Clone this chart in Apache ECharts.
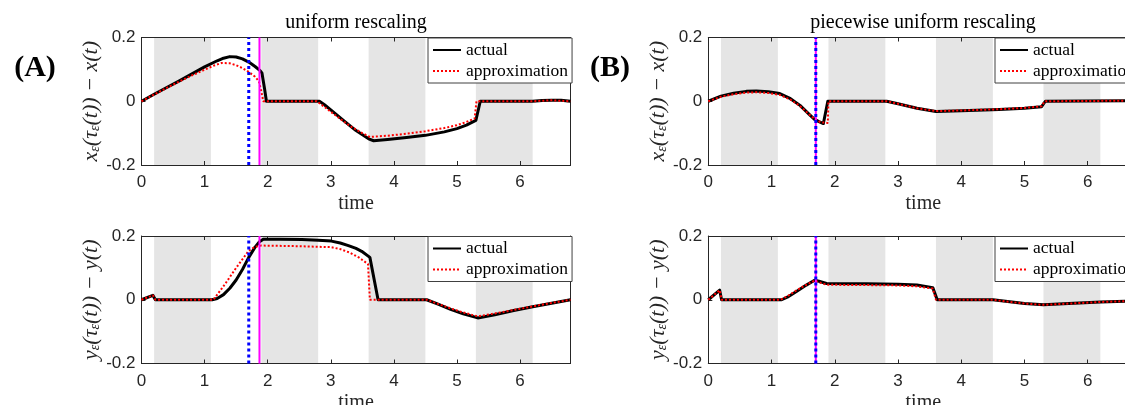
<!DOCTYPE html>
<html>
<head>
<meta charset="utf-8">
<script src="https://cdn.jsdelivr.net/npm/echarts@6/dist/echarts.min.js"></script>
<style>
html, body { margin: 0; padding: 0; background: #fff; }
#chart { width: 1125px; height: 405px; }
</style>
</head>
<body>
<div id="chart"></div>
<script>
// shaded intervals (time)
var bands = [[0.2, 1.1], [1.9, 2.8], [3.6, 4.5], [5.3, 6.2]];
var xTicks = [0, 1, 2, 3, 4, 5, 6];
var yTicks = [-0.2, 0, 0.2];

// (A) uniform rescaling, x error
var axActual = [[0,0],[0.2,0.022],[0.4,0.043],[0.6,0.064],[0.8,0.086],[1.0,0.108],[1.2,0.127],[1.3,0.135],[1.4,0.14],[1.5,0.139],[1.6,0.133],[1.7,0.123],[1.8,0.109],[1.88,0.096],[1.91,0.088],[1.95,0.04],[1.98,0],[2.82,0],[2.9,-0.011],[3.0,-0.027],[3.2,-0.06],[3.4,-0.092],[3.6,-0.118],[3.68,-0.124],[3.9,-0.12],[4.2,-0.114],[4.5,-0.107],[4.8,-0.096],[5.0,-0.086],[5.15,-0.075],[5.3,-0.06],[5.37,0],[6.2,0],[6.35,0.002],[6.5,0.003],[6.65,0.003],[6.8,0]];
var axApprox = [[0,0],[0.2,0.021],[0.4,0.042],[0.6,0.062],[0.8,0.081],[1.0,0.099],[1.15,0.112],[1.27,0.12],[1.4,0.119],[1.5,0.113],[1.6,0.104],[1.7,0.092],[1.8,0.077],[1.86,0.063],[1.9,0.03],[1.93,0],[2.78,0],[2.9,-0.018],[3.1,-0.048],[3.3,-0.077],[3.5,-0.1],[3.62,-0.112],[3.9,-0.108],[4.2,-0.102],[4.5,-0.094],[4.8,-0.084],[5.0,-0.075],[5.15,-0.065],[5.28,-0.054],[5.31,0],[6.2,0],[6.5,0.003],[6.8,0]];
// (A) uniform rescaling, y error
var ayActual = [[0,0],[0.18,0.014],[0.22,0],[1.12,0],[1.2,0.004],[1.3,0.016],[1.4,0.036],[1.5,0.062],[1.6,0.095],[1.7,0.133],[1.8,0.165],[1.87,0.182],[1.93,0.19],[2.2,0.19],[2.54,0.189],[2.8,0.187],[3.01,0.184],[3.15,0.178],[3.28,0.17],[3.4,0.161],[3.49,0.152],[3.62,0.133],[3.75,0],[4.52,0],[4.7,-0.014],[4.9,-0.03],[5.1,-0.044],[5.33,-0.057],[5.6,-0.047],[5.9,-0.034],[6.2,-0.022],[6.5,-0.011],[6.8,0]];
var ayApprox = [[0,0],[0.18,0.014],[0.22,0],[1.14,0],[1.32,0.048],[1.5,0.1],[1.7,0.154],[1.8,0.166],[1.9,0.17],[2.5,0.168],[3.0,0.165],[3.15,0.159],[3.3,0.148],[3.45,0.132],[3.59,0.112],[3.62,0],[4.52,0],[4.7,-0.013],[4.9,-0.027],[5.1,-0.04],[5.33,-0.052],[5.6,-0.043],[5.9,-0.032],[6.2,-0.021],[6.5,-0.01],[6.8,0]];

// (B) piecewise uniform rescaling, x error
var bxActual = [[0,0],[0.2,0.016],[0.4,0.025],[0.6,0.031],[0.76,0.032],[0.95,0.03],[1.13,0.024],[1.3,0.008],[1.45,-0.013],[1.6,-0.042],[1.68,-0.057],[1.75,-0.064],[1.82,-0.07],[1.89,0],[2.82,0],[3.0,-0.008],[3.3,-0.022],[3.6,-0.032],[4.0,-0.03],[4.6,-0.026],[5.0,-0.022],[5.27,-0.017],[5.33,0],[6.8,0.002]];
var bxApprox = [[0,0],[0.2,0.014],[0.4,0.022],[0.6,0.027],[0.76,0.028],[0.95,0.026],[1.13,0.02],[1.3,0.005],[1.45,-0.015],[1.6,-0.042],[1.7,-0.058],[1.78,-0.066],[1.89,-0.068],[1.9,0],[2.82,0],[3.0,-0.008],[3.3,-0.022],[3.6,-0.031],[4.0,-0.029],[4.6,-0.025],[5.0,-0.021],[5.27,-0.016],[5.32,0],[6.8,0.002]];
// (B) piecewise uniform rescaling, y error
var byActual = [[0,0],[0.18,0.03],[0.21,0],[1.16,0],[1.25,0.008],[1.4,0.027],[1.55,0.046],[1.68,0.061],[1.75,0.058],[1.87,0.051],[2.5,0.05],[3.0,0.049],[3.3,0.046],[3.55,0.038],[3.62,0],[4.5,0],[4.7,-0.005],[5.0,-0.012],[5.3,-0.016],[5.7,-0.012],[6.2,-0.007],[6.8,-0.003]];
var byApprox = [[0,0],[0.18,0.03],[0.21,0],[1.14,0],[1.25,0.011],[1.4,0.03],[1.55,0.047],[1.68,0.06],[1.75,0.055],[1.87,0.047],[2.5,0.046],[3.0,0.045],[3.3,0.042],[3.55,0.035],[3.6,0],[4.5,0],[4.7,-0.005],[5.0,-0.012],[5.3,-0.016],[5.7,-0.012],[6.2,-0.007],[6.8,-0.003]];

// vertical markers: blue dotted, magenta solid
var blueLineA = 1.7, magentaLineA = 1.87;
var blueLineB = 1.7, magentaLineB = 1.7;

var serif = 'Liberation Serif';
var sans = 'Liberation Sans';
var ink = '#262626';

var grids = [
  { left: 141.5, top: 37.5, width: 429, height: 127.5 },
  { left: 141.5, top: 236, width: 429, height: 127.5 },
  { left: 708.3, top: 37.5, width: 430, height: 127.5 },
  { left: 708.3, top: 236, width: 430, height: 127.5 }
];
var panels = [
  { act: axActual, app: axApprox, blue: blueLineA, mag: magentaLineA, v: 'x' },
  { act: ayActual, app: ayApprox, blue: blueLineA, mag: magentaLineA, v: 'y' },
  { act: bxActual, app: bxApprox, blue: blueLineB, mag: magentaLineB, v: 'x' },
  { act: byActual, app: byApprox, blue: blueLineB, mag: magentaLineB, v: 'y' }
];

var xAxes = [], yAxes = [], series = [], legends = [];
panels.forEach(function (p, g) {
  var gr = grids[g];
  gr.show = false;
  gr.containLabel = false;
  gr.outerBoundsMode = 'none';
  xAxes.push({
    type: 'value', gridIndex: g, min: 0, max: 6.8, interval: 1, z: 3,
    name: 'time', nameLocation: 'middle', nameGap: 29,
    nameTextStyle: { fontFamily: serif, fontSize: 20, color: ink },
    axisLine: { show: true, onZero: false, lineStyle: { color: ink, width: 1 } },
    axisTick: { show: true, inside: true, length: 4, lineStyle: { color: ink } },
    axisLabel: { show: true, showMaxLabel: false, margin: 9, fontFamily: sans, fontSize: 17, color: ink },
    splitLine: { show: false }
  });
  yAxes.push({
    type: 'value', gridIndex: g, min: -0.2, max: 0.2, interval: 0.2, z: 3,
    name: '{i|' + p.v + '}{e|ε}{i|(τ}{e|ε}{i|(t)) − ' + p.v + '(t)}',
    nameLocation: 'middle', nameGap: 31, nameRotate: 90,
    nameTextStyle: {
      rich: {
        i: { fontFamily: serif, fontStyle: 'italic', fontSize: 22, color: ink },
        e: { fontFamily: serif, fontStyle: 'italic', fontSize: 14, color: ink, verticalAlign: 'bottom' }
      }
    },
    axisLine: { show: true, onZero: false, lineStyle: { color: ink, width: 1 } },
    axisTick: { show: true, inside: true, length: 4, lineStyle: { color: ink } },
    axisLabel: { show: true, margin: 6, fontFamily: sans, fontSize: 17, color: ink },
    splitLine: { show: false }
  });
  series.push({
    type: 'line', xAxisIndex: g, yAxisIndex: g, data: [], z: 1, silent: true,
    markArea: {
      silent: true, itemStyle: { color: '#e5e5e5' },
      data: bands.map(function (b) { return [{ xAxis: b[0] }, { xAxis: b[1] }]; })
    }
  });
  series.push({
    name: 'actual', type: 'line', xAxisIndex: g, yAxisIndex: g, data: p.act,
    showSymbol: false, symbol: 'none', z: 4,
    lineStyle: { color: '#000', width: 3, join: 'round' }, itemStyle: { color: '#000' }
  });
  series.push({
    name: 'approximation', type: 'line', xAxisIndex: g, yAxisIndex: g, data: p.app,
    showSymbol: false, symbol: 'none', z: 4,
    lineStyle: { color: '#ff0000', width: 2, type: [2, 2] }, itemStyle: { color: '#ff0000' }
  });
  series.push({
    type: 'line', xAxisIndex: g, yAxisIndex: g, data: [[p.mag, -0.2], [p.mag, 0.2]],
    showSymbol: false, symbol: 'none', z: 5, silent: true,
    lineStyle: { color: '#ff00ff', width: 2 }
  });
  series.push({
    type: 'line', xAxisIndex: g, yAxisIndex: g, data: [[p.blue, -0.2], [p.blue, 0.2]],
    showSymbol: false, symbol: 'none', z: 6, silent: true,
    lineStyle: { color: '#0000ff', width: 3, type: [3, 3] }
  });
  legends.push({
    data: ['actual', 'approximation'], orient: 'vertical',
    left: g < 2 ? 428 : 995, top: gr.top + 0.5, z: 10,
    itemWidth: 28, itemHeight: 14, itemGap: 3, selectedMode: false,
    itemStyle: { opacity: 0 },
    padding: [3, 4, 3, 4], backgroundColor: '#fff', borderColor: '#404040', borderWidth: 1, borderRadius: 0,
    textStyle: { fontFamily: serif, fontSize: 17.5, color: '#000' }
  });
});
// mirrored box: top and right axes
panels.forEach(function (p, g) {
  xAxes.push({
    type: 'value', gridIndex: g, min: 0, max: 6.8, interval: 1, position: 'top', z: 3,
    axisLine: { show: true, onZero: false, lineStyle: { color: ink, width: 1 } },
    axisTick: { show: true, inside: true, length: 4, lineStyle: { color: ink } },
    axisLabel: { show: false }, splitLine: { show: false }
  });
  yAxes.push({
    type: 'value', gridIndex: g, min: -0.2, max: 0.2, interval: 0.2, position: 'right', z: 3,
    axisLine: { show: true, onZero: false, lineStyle: { color: ink, width: 1 } },
    axisTick: { show: true, inside: true, length: 4, lineStyle: { color: ink } },
    axisLabel: { show: false }, splitLine: { show: false }
  });
});

var option = {
  animation: false,
  backgroundColor: '#fff',
  grid: grids,
  xAxis: xAxes,
  yAxis: yAxes,
  legend: legends,
  series: series,
  graphic: [
    { type: 'text', x: 356, y: 23, style: { text: 'uniform rescaling', font: '20px "Liberation Serif"', fill: '#000', align: 'center', verticalAlign: 'middle' } },
    { type: 'text', x: 923, y: 23, style: { text: 'piecewise uniform rescaling', font: '20px "Liberation Serif"', fill: '#000', align: 'center', verticalAlign: 'middle' } },
    { type: 'text', x: 35, y: 68, style: { text: '(A)', font: 'bold 30px "Liberation Serif"', fill: '#000', align: 'center', verticalAlign: 'middle' } },
    { type: 'text', x: 610, y: 68, style: { text: '(B)', font: 'bold 30px "Liberation Serif"', fill: '#000', align: 'center', verticalAlign: 'middle' } }
  ]
};

var chart = echarts.init(document.getElementById('chart'));
chart.setOption(option);
</script>
</body>
</html>
